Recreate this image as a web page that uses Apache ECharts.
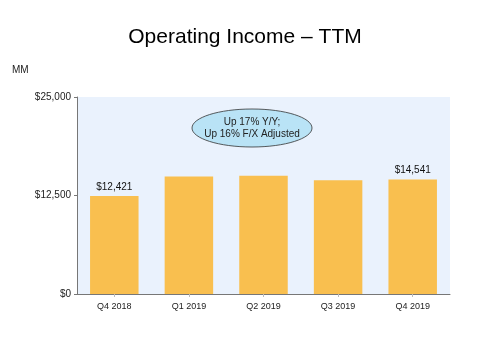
<!DOCTYPE html>
<html><head><meta charset="utf-8">
<script src="https://cdn.jsdelivr.net/npm/echarts@6/dist/echarts.min.js"></script>
<style>html,body{margin:0;padding:0;background:#fff}#c{width:490px;height:361px}</style>
</head><body><div id="c"></div>
<script>
const categories = ['Q4 2018','Q1 2019','Q2 2019','Q3 2019','Q4 2019'];
const values = [12421, 14900, 15000, 14430, 14541];
const labelShown = [true, false, false, false, true];
const yTicks = [0, 12500, 25000];

const chart = echarts.init(document.getElementById('c'), null, {renderer:'canvas'});
const font = 'Liberation Sans, Arial, sans-serif';
chart.setOption({
  animation: false,
  title: {text: 'Operating Income – TTM', left: 'center', top: 22,
    textStyle: {fontFamily: font, fontSize: 21, fontWeight: 'normal', color: '#000'}},
  grid: {left: 77, right: 40, top: 97, bottom: 67, show: true, backgroundColor: '#EAF2FD', borderWidth: 0},
  xAxis: {type: 'category', data: categories,
    axisLine: {lineStyle: {color: '#777', width: 1}},
    axisTick: {show: true, alignWithLabel: true, length: 3, lineStyle: {color: '#bbb'}},
    axisLabel: {fontFamily: font, fontSize: 9, color: '#222', margin: 8}},
  yAxis: {type: 'value', min: 0, max: 25000, interval: 12500,
    axisLine: {show: true, lineStyle: {color: '#777', width: 1}},
    axisTick: {show: true, length: 3, lineStyle: {color: '#777'}},
    splitLine: {show: false},
    axisLabel: {fontFamily: font, fontSize: 10, color: '#222', margin: 6,
      formatter: v => '$' + v.toLocaleString('en-US')}},
  series: [{type: 'bar', barCategoryGap: '35%',
    data: values.map((v, i) => ({value: v, label: {show: labelShown[i]}})),
    itemStyle: {color: '#F9BF4F'},
    label: {position: 'top', fontFamily: font, fontSize: 10, color: '#111', distance: 4,
      formatter: p => '$' + p.value.toLocaleString('en-US')}}],
  graphic: [
    {type: 'text', left: 12, top: 65, style: {text: 'MM', font: '10px ' + font, fill: '#222'}},
    {type: 'ellipse', shape: {cx: 252, cy: 128, rx: 60, ry: 19},
      style: {fill: '#B9E3F6', stroke: '#333', lineWidth: 0.8}, z: 10},
    {type: 'text', x: 252, y: 128, z: 11, style: {text: 'Up 17% Y/Y;\nUp 16% F/X Adjusted', align: 'center', verticalAlign: 'middle',
      font: '10px ' + font, fill: '#222', lineHeight: 12}}
  ]
});
</script></body></html>
